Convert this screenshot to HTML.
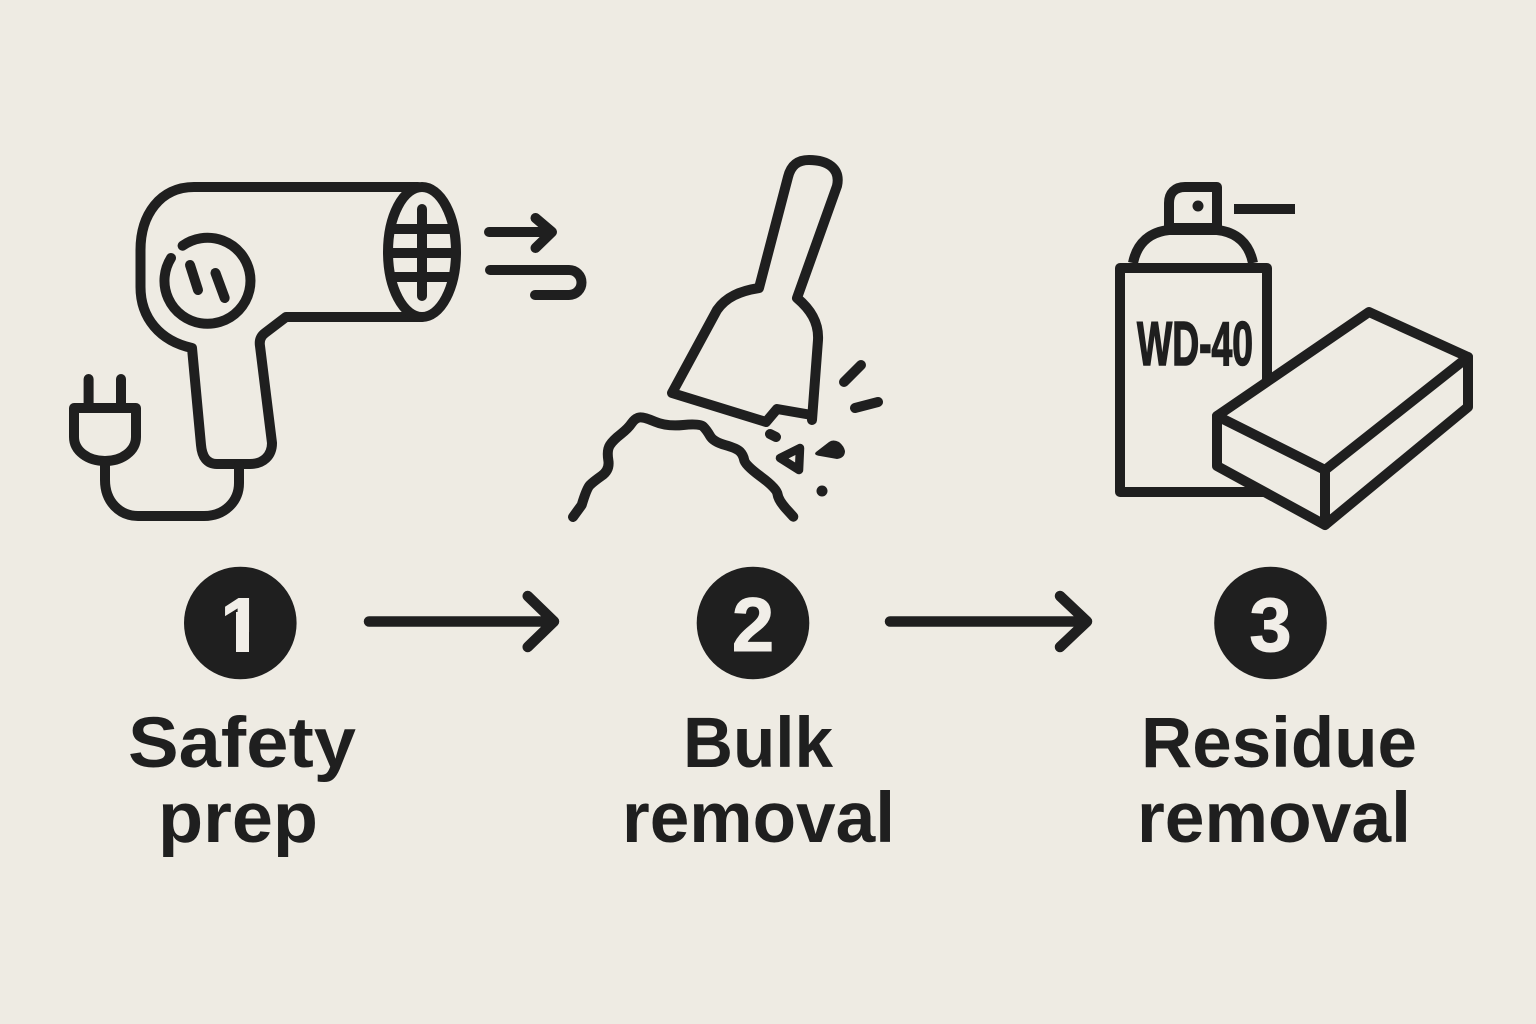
<!DOCTYPE html>
<html><head><meta charset="utf-8"><style>
html,body{margin:0;padding:0;background:#eeebe3}
svg{display:block}
text{font-family:"Liberation Sans",sans-serif;font-weight:700;fill:#1f1f1f}
.s{fill:none;stroke:#1f1f1f;stroke-width:10;stroke-linecap:round;stroke-linejoin:round}
.t{font-size:71px}
.n{font-size:76px;fill:#f1eee8;stroke:#f1eee8;stroke-width:1}
</style></head><body>
<svg width="1536" height="1024" viewBox="0 0 1536 1024" xmlns="http://www.w3.org/2000/svg">
<rect width="1536" height="1024" fill="#eeebe3"/>
<!-- hair dryer -->
<path class="s" d="M418 187H194C160 187 140.500 215 140.500 250V287C140.500 318 160 341 192 348L201 445C202 457 207 464 217 464H250C263 464 272 456 272 443L260 346C259 340 261 336 265 333L286 317H422"/>
<ellipse class="s" cx="422" cy="252" rx="34" ry="65"/>
<path class="s" d="M422 209V296"/>
<path class="s" d="M394 229H450M390 253H454M394 277H450" style="stroke-linecap:butt"/>
<path class="s" d="M182.600 245.700A43 43 0 1 1 171 258"/>
<path class="s" d="M190 265L198 290M215.500 273L224.700 298"/>
<path class="s" d="M489 232H552M535.500 218L552 232L535.500 248"/>
<path class="s" d="M490 270H569A12.500 12.500 0 0 1 569 295H535"/>
<!-- plug -->
<path class="s" d="M88.600 379V408M121 379V408"/>
<path class="s" d="M74 408H136V437C136 451 122 461 105 461C88 461 74 451 74 437Z"/>
<path class="s" d="M105 461V480C105 502 120 516 138 516H204C224 516 239 502 239 483V465"/>
<!-- scraper -->
<path class="s" d="M759 288L788 177C791 165 798 160 809 160C827 160 841 168 837 186L797 298C810 309 819 322 818 340L812 420L811.700 415L777 409L766 422L672 393L717 310C726 297 740 291 759 288Z"/>
<path class="s" d="M573 517L581.700 505Q586.700 488.300 590 485Q593.300 481.700 601.600 475.800Q610 470 608.300 460Q606.700 450 610 445Q613.300 440 620.800 434.200Q628.300 428.300 631.600 423.300Q635 418.300 639.200 417.500Q643.300 416.700 655 421.700Q666.700 426.700 683.300 425Q700 423.300 703.300 426.600Q706.700 430 710 435.800Q713.300 441.700 725 445Q736.700 448.300 740 451.600Q743.300 455 744.200 460Q745 465 760.800 476.600Q776.700 488.300 777.500 494Q778.300 500 785.800 508.400L793.300 516.700"/>
<path class="s" d="M770 434L776 437M844 382L861 365M855 408L878 402"/>
<path class="s" d="M800 448L780 458L799 470Z" style="stroke-width:8.500"/>
<path d="M816 452L829 442Q833 439 839 442Q844 446 845 451Q845 458 837 459L820 456Q813 455 816 452Z" fill="#1f1f1f"/>
<circle cx="822" cy="491" r="5.500" fill="#1f1f1f"/>
<!-- can -->
<path class="s" d="M1133 263C1137 243 1150 232 1169 230H1217C1236 232 1249 243 1253 263" style="stroke-linecap:butt"/>
<path class="s" d="M1169 228V203C1169 193 1175 187 1185 187H1217V228Z"/>
<circle cx="1198" cy="206" r="5.500" fill="#1f1f1f"/>
<rect x="1234" y="204" width="61" height="10" fill="#1f1f1f"/>
<rect class="s" x="1120" y="268" width="147" height="224"/>
<text x="1137" y="365" font-size="62" textLength="116" lengthAdjust="spacingAndGlyphs" style="stroke:#1f1f1f;stroke-width:1.600">WD-40</text>
<!-- sponge -->
<path class="s" style="fill:#eeebe3" d="M1217 416L1369 312L1468 357V407L1325 525L1217 466Z"/>
<path class="s" d="M1217 416L1325 470L1468 357M1325 470V525"/>
<!-- steps -->
<circle cx="240.300" cy="623" r="56.300" fill="#1f1f1f"/>
<circle cx="753" cy="623" r="56.300" fill="#1f1f1f"/>
<circle cx="1270.500" cy="623" r="56.300" fill="#1f1f1f"/>
<text class="n" x="241.500" y="651" text-anchor="middle">1</text>
<rect x="214" y="632" width="22" height="21" fill="#1f1f1f"/>
<rect x="249" y="632" width="18" height="21" fill="#1f1f1f"/>
<rect x="236" y="612" width="13" height="40" fill="#f1eee8"/>
<text class="n" x="753" y="651" text-anchor="middle">2</text>
<text class="n" x="1270.500" y="651" text-anchor="middle">3</text>
<path class="s" style="stroke-width:10.500" d="M369 621.500H554M527.700 596L554 621.500L527.700 647"/>
<path class="s" style="stroke-width:10.500" d="M890 621.500H1087M1060 596L1087 621.500L1060 647"/>
<!-- labels -->
<text class="t" x="128" y="767" textLength="228" lengthAdjust="spacingAndGlyphs">Safety</text>
<text class="t" x="158" y="842" textLength="160" lengthAdjust="spacingAndGlyphs">prep</text>
<text class="t" x="683" y="767" textLength="150" lengthAdjust="spacingAndGlyphs">Bulk</text>
<text class="t" x="622" y="842" textLength="273" lengthAdjust="spacingAndGlyphs">removal</text>
<text class="t" x="1141" y="767" textLength="276" lengthAdjust="spacingAndGlyphs">Residue</text>
<text class="t" x="1137" y="842" textLength="274" lengthAdjust="spacingAndGlyphs">removal</text>
</svg>
</body></html>
